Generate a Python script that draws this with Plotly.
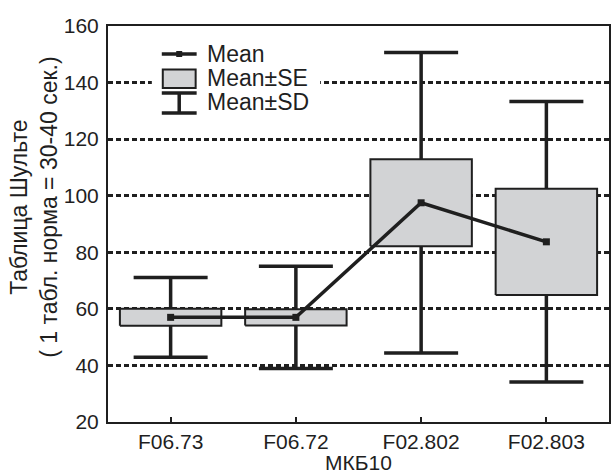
import plotly.graph_objects as go

# Shulte table scores by ICD-10 group: mean, standard error, standard deviation
categories = ["F06.73", "F06.72", "F02.802", "F02.803"]
mean_vals = [57.0, 57.0, 97.5, 83.7]
se_vals = [3.0, 2.9, 15.4, 18.8]
sd_vals = [14.1, 18.1, 53.1, 49.6]
y_ticks = [20, 40, 60, 80, 100, 120, 140, 160]

INK = "#1f1f1f"
BOX_FILL = "#d2d3d5"
FONT = "Liberation Sans, Arial, sans-serif"
W, H = 612, 474
L, R, T, B = 108, 1, 26, 52
BOX_HALF = 0.405  # half width of the SE boxes, in category units

xs = list(range(len(categories)))

fig = go.Figure()

# Mean ± SD whiskers with caps (drawn first so boxes cover the inner part)
fig.add_trace(go.Scatter(
    x=xs, y=mean_vals, mode="markers",
    marker=dict(size=1, color="rgba(0,0,0,0)"),
    error_y=dict(type="data", array=sd_vals, symmetric=True,
                 color=INK, thickness=3.5, width=37),
    showlegend=False, hoverinfo="skip",
))

# Mean ± SE boxes
bx, by = [], []
for i, m, s in zip(xs, mean_vals, se_vals):
    bx += [i - BOX_HALF, i + BOX_HALF, i + BOX_HALF, i - BOX_HALF, i - BOX_HALF, None]
    by += [m - s, m - s, m + s, m + s, m - s, None]
fig.add_trace(go.Scatter(
    x=bx, y=by, mode="lines", fill="toself", fillcolor=BOX_FILL,
    line=dict(color=INK, width=2), showlegend=False, hoverinfo="skip",
))

# Mean line with square markers
fig.add_trace(go.Scatter(
    x=xs, y=mean_vals, mode="lines+markers",
    line=dict(color=INK, width=3.5),
    marker=dict(symbol="square", size=7, color=INK),
    showlegend=False,
))

pw, ph = W - L - R, H - T - B


def px_x(p):
    return (p - L) / pw


def px_y(p):
    return (H - B - p) / ph


shapes = []
annotations = []

# Legend panel
shapes.append(dict(type="rect", xref="paper", yref="paper",
                   x0=px_x(152), x1=px_x(321), y0=px_y(122), y1=px_y(34),
                   fillcolor="white", line=dict(width=0), layer="above"))
# Mean icon
shapes.append(dict(type="line", xref="paper", yref="paper",
                   x0=px_x(162), x1=px_x(197), y0=px_y(54), y1=px_y(54),
                   line=dict(color=INK, width=3.5), layer="above"))
shapes.append(dict(type="rect", xref="paper", yref="paper",
                   x0=px_x(176.5), x1=px_x(182.5), y0=px_y(57), y1=px_y(51),
                   fillcolor=INK, line=dict(width=0), layer="above"))
# SE icon
shapes.append(dict(type="rect", xref="paper", yref="paper",
                   x0=px_x(163), x1=px_x(196), y0=px_y(88), y1=px_y(69.5),
                   fillcolor=BOX_FILL, line=dict(color=INK, width=2), layer="above"))
# SD icon
for yy in (93, 113):
    shapes.append(dict(type="line", xref="paper", yref="paper",
                       x0=px_x(162), x1=px_x(197), y0=px_y(yy), y1=px_y(yy),
                       line=dict(color=INK, width=3.5), layer="above"))
shapes.append(dict(type="line", xref="paper", yref="paper",
                   x0=px_x(179.5), x1=px_x(179.5), y0=px_y(93), y1=px_y(113),
                   line=dict(color=INK, width=3.5), layer="above"))

for label, yy in (("Mean", 54), ("Mean±SE", 78), ("Mean±SD", 102)):
    annotations.append(dict(text=label, xref="paper", yref="paper",
                            x=px_x(205), y=px_y(yy), xanchor="left", yanchor="middle",
                            showarrow=False, font=dict(size=23, color=INK, family=FONT)))

# Y axis title (two lines, rotated)
annotations.append(dict(text="Таблица Шульте<br>( 1 табл. норма = 30-40 сек.)",
                        xref="paper", yref="paper", x=px_x(33.5), y=px_y(207),
                        xanchor="center", yanchor="middle", textangle=-90,
                        showarrow=False, font=dict(size=23, color=INK, family=FONT)))

fig.update_layout(
    width=W, height=H,
    margin=dict(l=L, r=R, t=T, b=B),
    paper_bgcolor="white", plot_bgcolor="white",
    font=dict(family=FONT, size=20, color=INK),
    showlegend=False,
    shapes=shapes, annotations=annotations,
    xaxis=dict(
        range=[-0.5, len(categories) - 0.5],
        tickmode="array", tickvals=xs, ticktext=categories,
        ticks="inside", ticklen=5, tickwidth=2, tickcolor=INK,
        showline=True, linecolor=INK, linewidth=2, mirror=True,
        showgrid=False, zeroline=False,
        tickfont=dict(size=21),
        title=dict(text="МКБ10", standoff=3, font=dict(size=21)),
    ),
    yaxis=dict(
        range=[20, 160], tickmode="array", tickvals=y_ticks,
        ticks="", ticklabelstandoff=3,
        tickfont=dict(size=21),
        showline=True, linecolor=INK, linewidth=2, mirror=True,
        showgrid=True, gridcolor=INK, gridwidth=3, griddash="5px,3px",
        zeroline=False,
    ),
)

fig.write_html("out.html")
